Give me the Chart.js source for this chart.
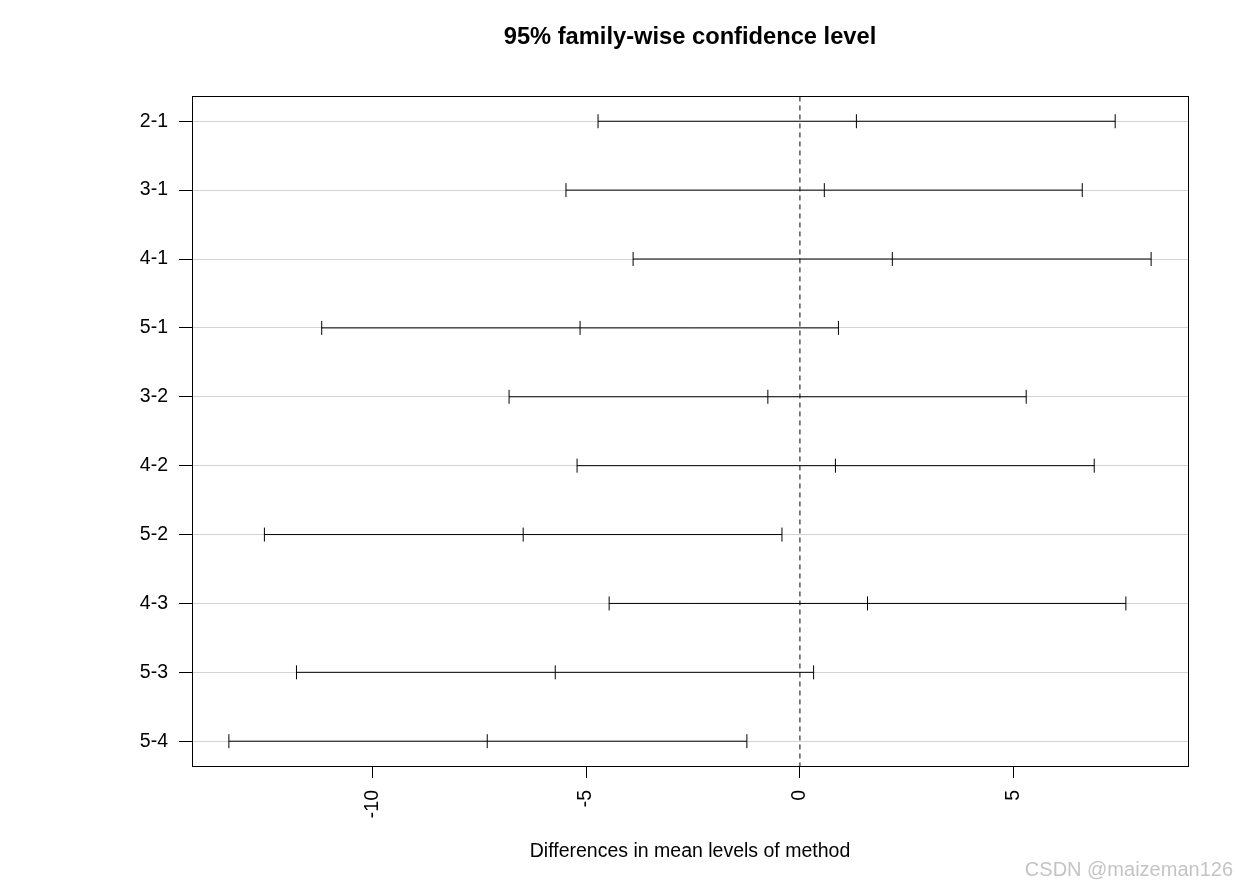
<!DOCTYPE html>
<html>
<head>
<meta charset="utf-8">
<script src="https://cdn.jsdelivr.net/npm/chart.js@4.4.1/dist/chart.umd.min.js"></script>
<style>
  html, body { margin: 0; padding: 0; background: #fff; }
  #wrap { position: relative; width: 1237px; height: 887px; }
  #mark { position: absolute; right: 4px; bottom: 6px; font: 20px "Liberation Sans", Arial, sans-serif; color: #c4c4c4; }
</style>
</head>
<body>
<div id="wrap">
  <canvas id="c" width="1237" height="887"></canvas>
  <div id="mark">CSDN @maizeman126</div>
</div>
<script>
// Tukey HSD comparisons, top to bottom
const comparisons = ["2-1", "3-1", "4-1", "5-1", "3-2", "4-2", "5-2", "4-3", "5-3", "5-4"]
const diff = [1.32, 0.57, 2.16, -5.14, -0.75, 0.83, -6.47, 1.58, -5.72, -7.31]
const lwr = [-4.72, -5.47, -3.90, -11.18, -6.80, -5.21, -12.52, -4.46, -11.77, -13.35]
const upr = [7.37, 6.60, 8.21, 0.90, 5.29, 6.88, -0.42, 7.62, 0.32, -1.24]
const xTicks = [-10, -5, 0, 5]

const FONT = "'Liberation Sans', Arial, sans-serif"

// R extends the range by 4% on each side
let lo = Math.min(...lwr), hi = Math.max(...upr)
let xMin = lo - 0.04 * (hi - lo)
let xMax = hi + 0.04 * (hi - lo)
let yMin = 1 - 0.04 * (comparisons.length - 1)
let yMax = comparisons.length + 0.04 * (comparisons.length - 1)

let datasets = []
for (let i = 0; i < comparisons.length; i++) {
    datasets.push({
        data: [{x: lwr[i], y: i + 1}, {x: diff[i], y: i + 1}, {x: upr[i], y: i + 1}],
        showLine: true,
        borderColor: "#000",
        borderWidth: 1,
        pointStyle: "line",
        rotation: 90,
        pointRadius: 7,
        pointBorderColor: "#000",
        pointBorderWidth: 1
    })
}
// dashed reference line at 0
datasets.push({
    data: [{x: 0, y: yMin}, {x: 0, y: yMax}],
    showLine: true,
    borderColor: "#000",
    borderWidth: 1,
    borderDash: [5, 4],
    pointRadius: 0
})

const boxPlugin = {
    id: "box",
    afterDraw(chart) {
        const a = chart.chartArea
        const ctx = chart.ctx
        ctx.save()
        ctx.strokeStyle = "#000"
        ctx.lineWidth = 1
        ctx.strokeRect(Math.round(a.left) + 0.5, Math.round(a.top) + 0.5, Math.round(a.right - a.left), Math.round(a.bottom - a.top))
        ctx.restore()
    }
}

new Chart(document.getElementById("c"), {
    type: "scatter",
    data: { datasets: datasets },
    plugins: [boxPlugin],
    options: {
        responsive: false,
        animation: false,
        devicePixelRatio: 1,
        layout: { padding: { left: 0, right: 49, top: 0, bottom: 0 } },
        plugins: {
            legend: { display: false },
            tooltip: { enabled: false },
            title: {
                display: true,
                fullSize: false,
                text: "95% family-wise confidence level",
                color: "#000",
                font: { family: FONT, size: 23.7, weight: "bold" },
                padding: { top: 23, bottom: 45 }
            }
        },
        scales: {
            x: {
                type: "linear",
                min: xMin,
                max: xMax,
                afterBuildTicks: s => { s.ticks = xTicks.map(v => ({value: v})) },
                afterFit: s => { s.height = 121 },
                grid: { drawOnChartArea: false, drawTicks: true, tickLength: 12, tickColor: "#000" },
                border: { display: true, color: "#000" },
                ticks: {
                    color: "#000",
                    font: { family: FONT, size: 19.5 },
                    minRotation: 90,
                    maxRotation: 90,
                    padding: 12
                },
                title: {
                    display: true,
                    text: "Differences in mean levels of method",
                    color: "#000",
                    font: { family: FONT, size: 19.5 },
                    padding: { top: 0, bottom: 24 }
                }
            },
            y: {
                type: "linear",
                reverse: true,
                min: yMin,
                max: yMax,
                afterBuildTicks: s => { s.ticks = comparisons.map((c, i) => ({value: i + 1})) },
                afterFit: s => { s.width = 192 },
                grid: { color: "#d3d3d3", lineWidth: 1, tickLength: 13, tickColor: "#000" },
                border: { display: true, color: "#000" },
                ticks: {
                    color: "#000",
                    font: { family: FONT, size: 19.5 },
                    padding: 11,
                    callback: v => comparisons[Math.round(v) - 1]
                }
            }
        }
    }
})
</script>
</body>
</html>
